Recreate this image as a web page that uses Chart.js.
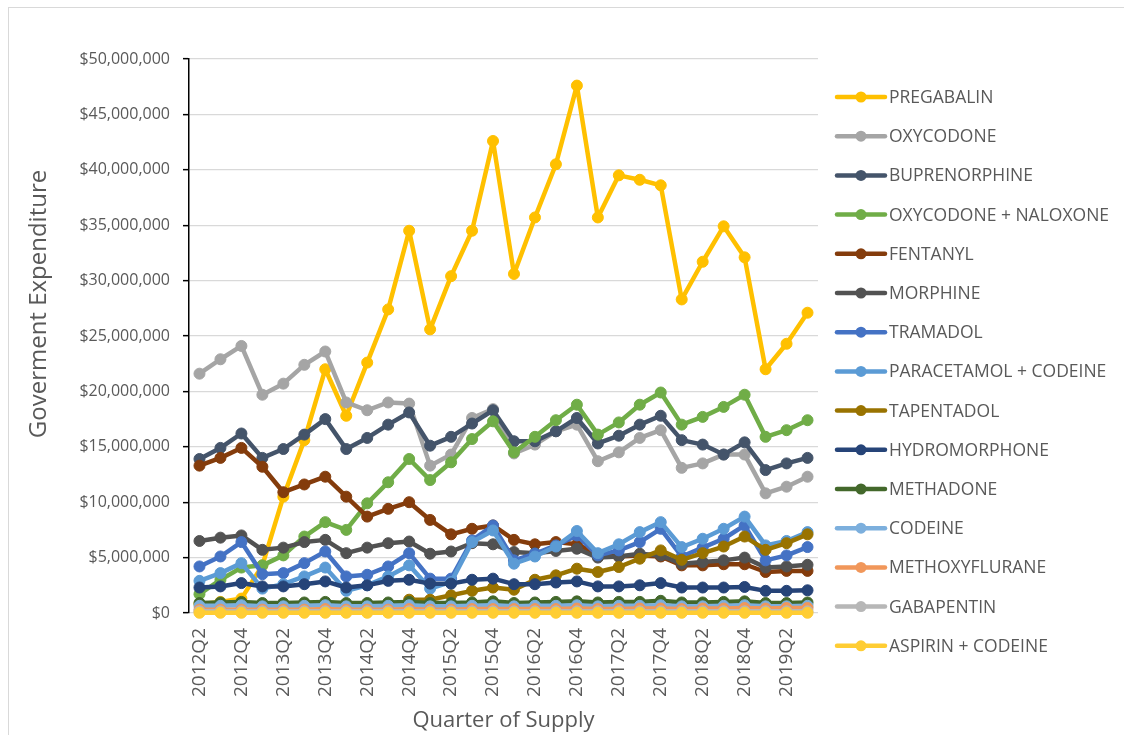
<!DOCTYPE html>
<html>
<head>
<meta charset="utf-8">
<title>Government expenditure by quarter of supply</title>
<script src="https://cdn.jsdelivr.net/npm/chart.js@4/dist/chart.umd.min.js"></script>
<style>
  html, body { margin: 0; padding: 0; background: #ffffff; }
  #wrap { position: relative; width: 1124px; height: 735px; }
  canvas { display: block; }
</style>
</head>
<body>
<div id="wrap"><canvas id="chart" width="1124" height="735"></canvas></div>
<script>
// Quarters of supply, 2012Q2 .. 2019Q3
const QUARTERS = [
  '2012Q2','2012Q3','2012Q4','2013Q1','2013Q2','2013Q3','2013Q4','2014Q1','2014Q2','2014Q3',
  '2014Q4','2015Q1','2015Q2','2015Q3','2015Q4','2016Q1','2016Q2','2016Q3','2016Q4','2017Q1',
  '2017Q2','2017Q3','2017Q4','2018Q1','2018Q2','2018Q3','2018Q4','2019Q1','2019Q2','2019Q3'
];

// Expenditure per quarter, in millions of dollars
const PREGABALIN = [0.8, 1.0, 1.3, 4.3, 10.5, 15.6, 22.0, 17.8, 22.6, 27.4, 34.5, 25.6, 30.4, 34.5, 42.6,
  30.6, 35.7, 40.5, 47.6, 35.7, 39.5, 39.1, 38.6, 28.3, 31.7, 34.9, 32.1, 22.0, 24.3, 27.1];
const OXYCODONE = [21.6, 22.9, 24.1, 19.7, 20.7, 22.4, 23.6, 19.0, 18.3, 19.0, 18.9, 13.3, 14.3, 17.6, 18.4,
  14.4, 15.2, 16.4, 17.0, 13.7, 14.5, 15.8, 16.5, 13.1, 13.5, 14.3, 14.3, 10.8, 11.4, 12.3];
const BUPRENORPHINE = [13.9, 14.9, 16.2, 14.0, 14.8, 16.1, 17.5, 14.8, 15.8, 17.0, 18.1, 15.1, 15.9, 17.1, 18.3,
  15.5, 15.5, 16.4, 17.6, 15.3, 16.0, 17.0, 17.8, 15.6, 15.2, 14.3, 15.4, 12.9, 13.5, 14.0];
const OXYCODONE_NALOXONE = [1.7, 3.0, 4.1, 4.3, 5.2, 6.9, 8.2, 7.5, 9.9, 11.8, 13.9, 12.0, 13.6, 15.7, 17.3,
  14.5, 15.9, 17.4, 18.8, 16.1, 17.2, 18.8, 19.9, 17.0, 17.7, 18.6, 19.7, 15.9, 16.5, 17.4];
const FENTANYL = [13.3, 14.0, 14.9, 13.2, 10.9, 11.6, 12.3, 10.5, 8.7, 9.4, 10.0, 8.4, 7.1, 7.6, 7.9,
  6.6, 6.2, 6.4, 6.2, 5.3, 5.1, 5.2, 5.1, 4.3, 4.3, 4.4, 4.4, 3.7, 3.8, 3.8];
const MORPHINE = [6.5, 6.8, 7.0, 5.7, 5.9, 6.4, 6.6, 5.4, 5.9, 6.3, 6.45, 5.35, 5.55, 6.3, 6.2,
  5.5, 5.4, 5.6, 5.8, 5.0, 5.1, 5.35, 5.2, 4.45, 4.6, 4.75, 5.0, 4.1, 4.2, 4.35];
const TRAMADOL = [4.2, 5.1, 6.4, 3.5, 3.6, 4.5, 5.55, 3.3, 3.45, 4.2, 5.4, 3.1, 3.1, 6.55, 7.9,
  4.75, 5.35, 6.1, 7.0, 5.2, 5.65, 6.4, 7.6, 5.1, 5.9, 6.7, 7.9, 4.75, 5.2, 5.95];
const PARACETAMOL_CODEINE = [2.9, 3.6, 4.5, 2.2, 2.6, 3.3, 4.1, 2.0, 2.5, 3.3, 4.3, 2.2, 2.8, 6.4, 7.45,
  4.45, 5.1, 6.0, 7.4, 5.4, 6.2, 7.3, 8.2, 5.95, 6.7, 7.6, 8.7, 6.1, 6.5, 7.3];
const TAPENTADOL = [null, null, null, null, null, null, null, null, null, null, 1.2, 1.2, 1.6, 2.0, 2.3,
  2.1, 3.0, 3.4, 4.0, 3.7, 4.15, 4.9, 5.65, 4.8, 5.4, 6.0, 6.9, 5.7, 6.3, 7.1];
const HYDROMORPHONE = [2.3, 2.4, 2.7, 2.4, 2.4, 2.6, 2.85, 2.3, 2.5, 2.9, 3.0, 2.65, 2.65, 3.0, 3.1,
  2.6, 2.6, 2.75, 2.85, 2.4, 2.4, 2.5, 2.7, 2.3, 2.3, 2.3, 2.35, 2.0, 2.0, 2.05];
const METHADONE = [0.9, 0.95, 1.0, 0.9, 0.9, 0.95, 1.0, 0.9, 0.9, 0.95, 1.0, 0.9, 0.9, 0.95, 1.05,
  0.9, 0.95, 1.0, 1.05, 0.95, 1.0, 1.0, 1.1, 0.95, 0.95, 1.0, 1.05, 0.9, 0.9, 0.95];
const CODEINE = [0.65, 0.65, 0.7, 0.6, 0.6, 0.65, 0.7, 0.6, 0.6, 0.65, 0.7, 0.6, 0.6, 0.65, 0.7,
  0.6, 0.65, 0.65, 0.7, 0.6, 0.65, 0.65, 0.7, 0.6, 0.6, 0.65, 0.7, 0.6, 0.6, 0.65];
const METHOXYFLURANE = [0.3, 0.3, 0.3, 0.3, 0.3, 0.3, 0.35, 0.3, 0.3, 0.3, 0.35, 0.3, 0.3, 0.35, 0.35,
  0.35, 0.35, 0.35, 0.4, 0.35, 0.35, 0.4, 0.4, 0.35, 0.4, 0.4, 0.45, 0.4, 0.45, 0.45];
const GABAPENTIN = [0.15, 0.15, 0.15, 0.15, 0.15, 0.15, 0.15, 0.15, 0.15, 0.15, 0.15, 0.15, 0.15, 0.15, 0.15,
  0.15, 0.15, 0.15, 0.15, 0.15, 0.15, 0.15, 0.15, 0.15, 0.15, 0.15, 0.15, 0.15, 0.15, 0.15];
const ASPIRIN_CODEINE = [0.02, 0.02, 0.02, 0.02, 0.02, 0.02, 0.02, 0.02, 0.02, 0.02, 0.02, 0.02, 0.02, 0.02, 0.02,
  0.02, 0.02, 0.02, 0.02, 0.02, 0.02, 0.02, 0.02, 0.02, 0.02, 0.02, 0.02, 0.02, 0.02, 0.02];

const SERIES_NAMES = ['PREGABALIN', 'OXYCODONE', 'BUPRENORPHINE', 'OXYCODONE + NALOXONE', 'FENTANYL',
  'MORPHINE', 'TRAMADOL', 'PARACETAMOL + CODEINE', 'TAPENTADOL', 'HYDROMORPHONE', 'METHADONE',
  'CODEINE', 'METHOXYFLURANE', 'GABAPENTIN', 'ASPIRIN + CODEINE'];
const SERIES_VALUES = [PREGABALIN, OXYCODONE, BUPRENORPHINE, OXYCODONE_NALOXONE, FENTANYL,
  MORPHINE, TRAMADOL, PARACETAMOL_CODEINE, TAPENTADOL, HYDROMORPHONE, METHADONE,
  CODEINE, METHOXYFLURANE, GABAPENTIN, ASPIRIN_CODEINE];
const SERIES_COLORS = ['#FFC000', '#A5A5A5', '#44546A', '#70AD47', '#843C0C',
  '#525252', '#4472C4', '#5B9BD5', '#997300', '#264478', '#43682B',
  '#7CAFDD', '#F1975A', '#B7B7B7', '#FFCD33'];

const Y_MAX = 50000000;
const Y_STEP = 5000000;
const Y_TITLE = 'Goverment Expenditure';
const X_TITLE = 'Quarter of Supply';

const FONT_FAMILY = "'Open Sans', 'DejaVu Sans', sans-serif";
const TEXT_COLOR = '#595959';

function dollars(v) {
  const s = String(Math.round(v));
  return '$' + s.replace(/\B(?=(\d{3})+(?!\d))/g, ',');
}

// Later series sit on top of earlier ones, so give them a lower drawing order.
// Markers on the zero line are drawn whole, so clipping is off.
const datasets = SERIES_NAMES.map((name, i) => ({
  label: name,
  data: SERIES_VALUES[i].map(v => (v === null ? null : v * 1000000)),
  borderColor: SERIES_COLORS[i],
  backgroundColor: SERIES_COLORS[i],
  pointBackgroundColor: SERIES_COLORS[i],
  pointBorderColor: SERIES_COLORS[i],
  borderWidth: 4.5,
  pointRadius: 5.5,
  pointBorderWidth: 1,
  borderCapStyle: 'round',
  borderJoinStyle: 'round',
  tension: 0,
  fill: false,
  clip: false,
  order: SERIES_NAMES.length - i
}));

// White background, the outer frame and the vertical axis title
const chartFrame = {
  id: 'chartFrame',
  beforeDraw(chart) {
    const ctx = chart.ctx;
    ctx.save();
    ctx.fillStyle = '#ffffff';
    ctx.fillRect(0, 0, chart.width, chart.height);
    ctx.strokeStyle = '#D9D9D9';
    ctx.lineWidth = 1;
    ctx.strokeRect(8.5, 7.5, 1130, 740);
    ctx.restore();
  },
  afterDraw(chart) {
    const ctx = chart.ctx;
    ctx.save();
    ctx.translate(39, 304);
    ctx.rotate(-Math.PI / 2);
    ctx.fillStyle = TEXT_COLOR;
    ctx.font = "24px " + FONT_FAMILY;
    ctx.textAlign = 'center';
    ctx.textBaseline = 'middle';
    ctx.fillText(Y_TITLE, 0, 0);
    ctx.restore();
  }
};

// Legend column on the right: line sample with a marker, then the series name
const LEGEND_X = 835;
const LEGEND_SAMPLE = 52;
const LEGEND_TOP = 97;
const LEGEND_STEP = 39.2;
const sideLegend = {
  id: 'sideLegend',
  afterDraw(chart) {
    const ctx = chart.ctx;
    ctx.save();
    chart.data.datasets.forEach((ds, k) => {
      const y = LEGEND_TOP + k * LEGEND_STEP;
      ctx.strokeStyle = ds.borderColor;
      ctx.lineWidth = 4.5;
      ctx.lineCap = 'round';
      ctx.beginPath();
      ctx.moveTo(LEGEND_X + 2, y);
      ctx.lineTo(LEGEND_X + LEGEND_SAMPLE - 2, y);
      ctx.stroke();
      ctx.fillStyle = ds.borderColor;
      ctx.beginPath();
      ctx.arc(LEGEND_X + LEGEND_SAMPLE / 2, y, 5.5, 0, Math.PI * 2);
      ctx.fill();
      ctx.fillStyle = TEXT_COLOR;
      ctx.font = "17.5px " + FONT_FAMILY;
      ctx.textAlign = 'left';
      ctx.textBaseline = 'middle';
      ctx.fillText(ds.label, LEGEND_X + LEGEND_SAMPLE + 2, y + 1);
    });
    ctx.restore();
  }
};

new Chart(document.getElementById('chart').getContext('2d'), {
  type: 'line',
  data: { labels: QUARTERS, datasets: datasets },
  options: {
    responsive: false,
    animation: false,
    devicePixelRatio: 1,
    layout: { padding: { left: 9, top: 59, right: 306, bottom: 0 } },
    plugins: {
      legend: { display: false },
      tooltip: { enabled: false }
    },
    scales: {
      x: {
        type: 'category',
        offset: true,
        grid: { display: false, drawTicks: false },
        border: { display: false },
        ticks: {
          autoSkip: false,
          minRotation: 90,
          maxRotation: 90,
          padding: 15,
          color: TEXT_COLOR,
          font: { family: FONT_FAMILY, size: 19 },
          callback: (value, index) => (index % 2 === 0 ? QUARTERS[index] : '')
        },
        title: {
          display: true,
          text: X_TITLE,
          color: TEXT_COLOR,
          font: { family: FONT_FAMILY, size: 22 },
          padding: { top: 0, bottom: 1 }
        },
        afterFit: (scale) => { scale.height = 122; }
      },
      y: {
        min: 0,
        max: Y_MAX,
        ticks: {
          stepSize: Y_STEP,
          padding: 13,
          color: TEXT_COLOR,
          font: { family: FONT_FAMILY, size: 16 },
          callback: (value) => dollars(value)
        },
        grid: {
          color: '#D9D9D9',
          lineWidth: 1.3,
          tickColor: '#000000',
          tickLength: 6,
          tickWidth: 1.5
        },
        border: { display: true, color: '#000000', width: 1.5 },
        title: { display: false },
        afterFit: (scale) => { scale.width = 180; }
      }
    }
  },
  plugins: [chartFrame, sideLegend]
});
</script>
</body>
</html>
